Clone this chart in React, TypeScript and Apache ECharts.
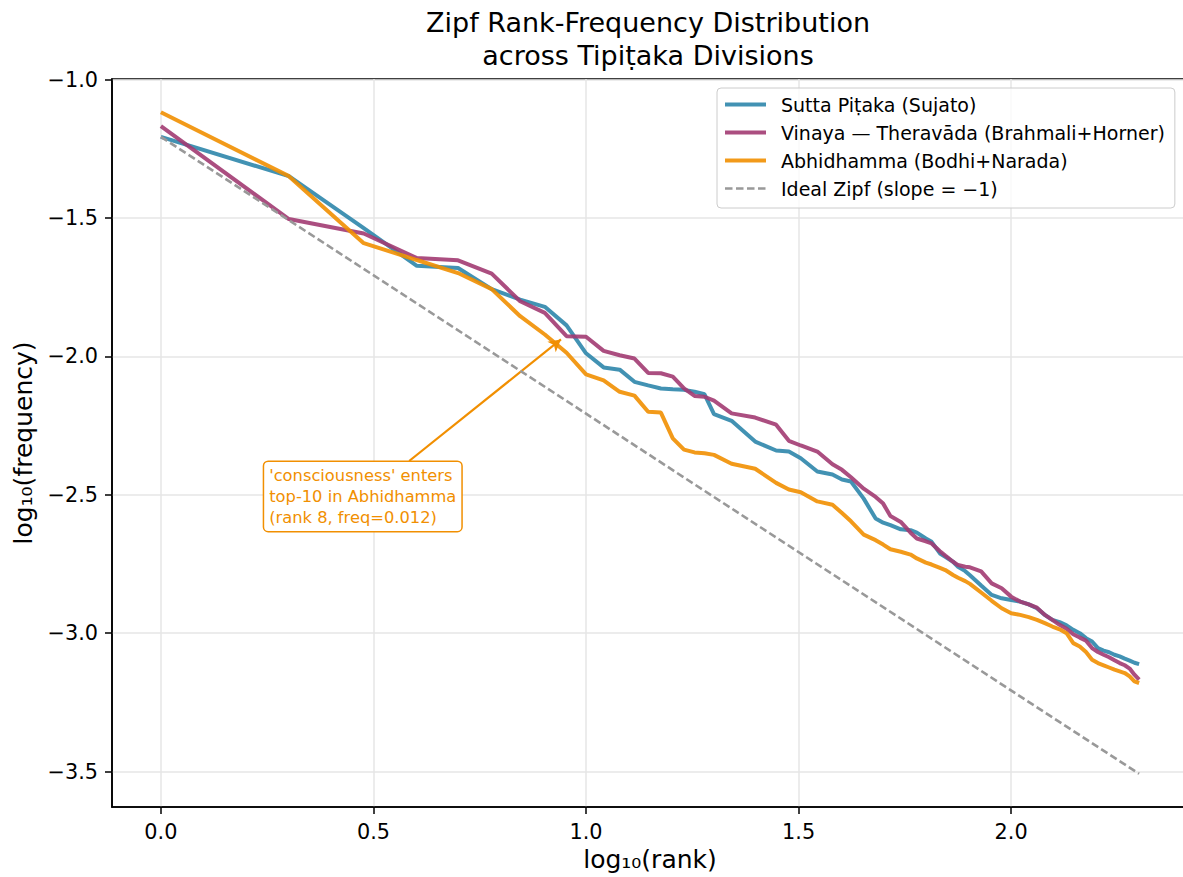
import React, { useEffect, useRef } from 'react';
import * as echarts from 'echarts';

// ---- Data ----
const ranks = [
  1, 2, 3, 4, 5, 6, 7, 8, 9, 10, 11, 12, 13, 14, 15, 16, 17, 18, 19, 20,
  22, 25, 28, 30, 32, 35, 38, 40, 42, 45, 48, 50, 52, 55, 58, 60, 63, 65, 68, 70, 73, 75, 78, 80,
  85, 90, 95, 100, 105, 110, 115, 120, 125, 130, 135, 140, 145, 150, 155, 160, 165, 170, 175, 180, 185, 190, 195, 200,
];

const suttaLogFreq = [
  -1.207, -1.349, -1.537, -1.673, -1.681, -1.757, -1.795, -1.821, -1.888, -1.989,
  -2.040, -2.048, -2.092, -2.105, -2.116, -2.119, -2.121, -2.128, -2.137, -2.209,
  -2.233, -2.308, -2.340, -2.344, -2.368, -2.416, -2.427, -2.445, -2.452, -2.514, -2.586, -2.601,
  -2.610, -2.625, -2.628, -2.637, -2.658, -2.670, -2.712, -2.724, -2.742, -2.760, -2.776, -2.791,
  -2.828, -2.862, -2.874, -2.880, -2.886, -2.896, -2.910, -2.934, -2.952, -2.960, -2.972, -2.988,
  -3.000, -3.018, -3.030, -3.054, -3.063, -3.069, -3.078, -3.084, -3.092, -3.099, -3.107, -3.112,
];

const vinayaLogFreq = [
  -1.168, -1.504, -1.556, -1.645, -1.653, -1.701, -1.801, -1.843, -1.927, -1.929,
  -1.980, -1.996, -2.008, -2.060, -2.061, -2.073, -2.116, -2.143, -2.146, -2.160,
  -2.206, -2.221, -2.247, -2.305, -2.322, -2.344, -2.390, -2.410, -2.437, -2.478, -2.508, -2.532,
  -2.577, -2.598, -2.637, -2.658, -2.668, -2.676, -2.704, -2.720, -2.742, -2.754, -2.760, -2.762,
  -2.777, -2.820, -2.838, -2.868, -2.886, -2.896, -2.908, -2.934, -2.952, -2.970, -2.984, -3.004,
  -3.016, -3.027, -3.054, -3.068, -3.078, -3.087, -3.098, -3.108, -3.116, -3.128, -3.150, -3.168,
];

const abhidhammaLogFreq = [
  -1.118, -1.349, -1.591, -1.652, -1.699, -1.757, -1.855, -1.921, -1.987, -2.065,
  -2.087, -2.128, -2.142, -2.200, -2.203, -2.296, -2.337, -2.347, -2.350, -2.356,
  -2.388, -2.406, -2.457, -2.481, -2.491, -2.524, -2.536, -2.566, -2.596, -2.644, -2.664, -2.680,
  -2.697, -2.706, -2.716, -2.730, -2.745, -2.752, -2.764, -2.772, -2.790, -2.800, -2.812, -2.822,
  -2.853, -2.883, -2.910, -2.928, -2.934, -2.942, -2.952, -2.964, -2.976, -2.986, -3.000, -3.036,
  -3.048, -3.068, -3.096, -3.108, -3.116, -3.124, -3.132, -3.138, -3.144, -3.156, -3.174, -3.180,
];

const idealRanks = [1, 200];
const idealLogFreq = [-1.207, -3.508];

const seriesNames = [
  'Sutta Piṭaka (Sujato)',
  'Vinaya — Theravāda (Brahmali+Horner)',
  'Abhidhamma (Bodhi+Narada)',
  'Ideal Zipf (slope = −1)',
];
const seriesColors = ['#2E86AB', '#A23B72', '#F18F01', '#999999'];

const xTicks = [0, 0.5, 1, 1.5, 2];
const yTicks = [-3.5, -3, -2.5, -2, -1.5, -1];

const annotationLines = ["'consciousness' enters", 'top-10 in Abhidhamma', '(rank 8, freq=0.012)'];
const annotationAnchor = [0.243, -2.506];
const arrowFrom = [0.584, -2.378];
const arrowTo = [0.941, -1.939];

const titleLines = ['Zipf Rank-Frequency Distribution', 'across Tipiṭaka Divisions'];

const FONT = 'DejaVu Sans';
const DASH = [7.5, 3.5];

const toPoints = (rs: number[], vals: number[]) => rs.map((r, i) => [Math.log10(r), vals[i]]);
const fmt = (v: number) => (v < 0 ? '−' : '') + Math.abs(v).toFixed(1);

export default function App() {
  const ref = useRef<HTMLDivElement>(null);

  useEffect(() => {
    const chart = echarts.init(ref.current!, null, { renderer: 'svg' });

    const lineSeries = (idx: number, vals: number[], extra: any = {}) => ({
      name: seriesNames[idx],
      type: 'line',
      data: toPoints(ranks, vals),
      symbol: 'none',
      silent: true,
      z: 2 + idx,
      itemStyle: { color: seriesColors[idx] },
      lineStyle: { color: seriesColors[idx], width: 4, opacity: 0.9 },
      emphasis: { disabled: true },
      ...extra,
    });

    const option: any = {
      animation: false,
      textStyle: { fontFamily: FONT },
      graphic: [
        {
          type: 'text',
          x: 648,
          y: 6,
          style: {
            text: titleLines.join('\n'),
            align: 'center',
            verticalAlign: 'top',
            fontFamily: FONT,
            fontSize: 27,
            lineHeight: 33,
            fill: '#000',
          },
        },
      ],
      legend: {
        data: seriesNames.map((name, i) => ({
          name,
          lineStyle:
            i === 3
              ? { color: seriesColors[i], width: 2.6, type: DASH, opacity: 1 }
              : { color: seriesColors[i], width: 4, type: 'solid', opacity: 0.9 },
        })),
        orient: 'vertical',
        left: 717,
        top: 88,
        itemWidth: 41,
        itemHeight: 14,
        itemGap: 9,
        padding: [7, 10, 10, 6],
        backgroundColor: 'rgba(255,255,255,0.8)',
        borderColor: '#cccccc',
        borderWidth: 1,
        borderRadius: 4,
        itemStyle: { opacity: 0 },
        textStyle: { fontFamily: FONT, fontSize: 19, lineHeight: 19, color: '#000', padding: [0, 0, 0, 10] },
        selectedMode: false,
      },
      grid: {
        left: 112,
        top: 79,
        width: 1076,
        height: 731,
        show: true,
        borderColor: '#000',
        borderWidth: 1.6,
        backgroundColor: 'transparent',
      },
      xAxis: {
        type: 'value',
        min: -0.115,
        max: 2.416,
        name: 'log₁₀(rank)',
        nameLocation: 'middle',
        nameGap: 40,
        nameTextStyle: { fontFamily: FONT, fontSize: 25, color: '#000' },
        axisLine: { show: true, onZero: false, lineStyle: { color: '#000', width: 1.6 } },
        axisTick: { show: true, length: 7, lineStyle: { color: '#000', width: 1.5 }, customValues: xTicks },
        axisLabel: { customValues: xTicks, margin: 14, fontSize: 20.8, color: '#000', fontFamily: FONT, formatter: fmt },
        splitLine: { show: true, lineStyle: { color: '#e6e6e6', width: 1.5 } },
      },
      yAxis: {
        type: 'value',
        min: -3.628,
        max: -0.998,
        name: 'log₁₀(frequency)',
        nameLocation: 'middle',
        nameGap: 76,
        nameTextStyle: { fontFamily: FONT, fontSize: 25, color: '#000' },
        axisLine: { show: true, onZero: false, lineStyle: { color: '#000', width: 1.6 } },
        axisTick: { show: true, length: 7, lineStyle: { color: '#000', width: 1.5 }, customValues: yTicks },
        axisLabel: { customValues: yTicks, margin: 14, fontSize: 20.8, color: '#000', fontFamily: FONT, formatter: fmt },
        splitLine: { show: true, lineStyle: { color: '#e6e6e6', width: 1.5 } },
      },
      series: [
        lineSeries(0, suttaLogFreq),
        lineSeries(1, vinayaLogFreq),
        lineSeries(2, abhidhammaLogFreq, {
          markLine: {
            silent: true,
            symbol: ['none', 'arrow'],
            symbolSize: [10, 12],
            label: { show: false },
            emphasis: { disabled: true },
            lineStyle: { color: seriesColors[2], width: 2.2, type: 'solid', opacity: 1 },
            data: [[{ coord: arrowFrom }, { coord: arrowTo }]],
          },
          markPoint: {
            silent: true,
            symbol: 'circle',
            symbolSize: 0,
            itemStyle: { color: 'transparent' },
            data: [{ coord: annotationAnchor, value: 0 }],
            label: {
              show: true,
              position: 'right',
              distance: 0,
              formatter: annotationLines.join('\n'),
              color: seriesColors[2],
              fontFamily: FONT,
              fontSize: 16.3,
              lineHeight: 21,
              align: 'left',
              backgroundColor: '#ffffff',
              borderColor: seriesColors[2],
              borderWidth: 1.5,
              borderRadius: 4,
              padding: [3, 5, 3, 5],
            },
          },
        }),
        {
          name: seriesNames[3],
          type: 'line',
          data: toPoints(idealRanks, idealLogFreq),
          symbol: 'none',
          silent: true,
          z: 6,
          itemStyle: { color: seriesColors[3] },
          lineStyle: { color: seriesColors[3], width: 2.6, type: DASH },
          emphasis: { disabled: true },
        },
      ],
    };

    chart.setOption(option);
    return () => chart.dispose();
  }, []);

  return (
    <div
      ref={ref}
      style={{ position: 'fixed', left: 0, top: 0, width: 1200, height: 877, background: '#ffffff' }}
    />
  );
}
